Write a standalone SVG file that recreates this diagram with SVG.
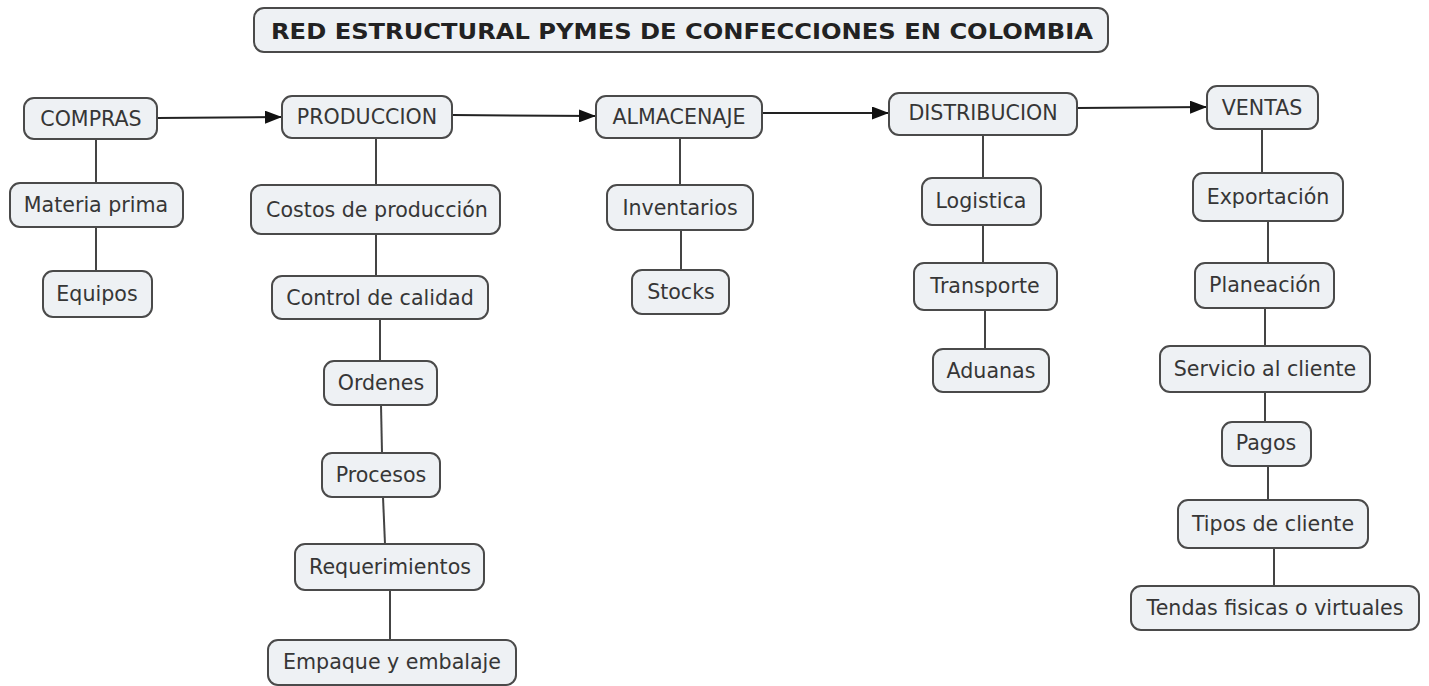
<svg xmlns="http://www.w3.org/2000/svg" width="1429" height="686" viewBox="0 0 1429 686">
<defs>
<style>
.n rect{fill:#eef1f4;stroke:#4a4a4a;stroke-width:2}
.n text{font-family:"DejaVu Sans","Noto Sans",sans-serif;font-size:20.6px;fill:#363636;text-anchor:middle;dominant-baseline:central}
.t text{font-family:"DejaVu Sans","Noto Sans",sans-serif;font-size:22px;font-weight:bold;fill:#222;text-anchor:middle;dominant-baseline:central}
.c line{stroke:#444;stroke-width:2}
.c .a{stroke:#222}
</style>
<marker id="ar" viewBox="0 0 17 13" refX="17" refY="6.5" markerWidth="17" markerHeight="13" markerUnits="userSpaceOnUse" orient="auto">
<path d="M0,0 L17,6.5 L0,13 z" fill="#111"/>
</marker>
</defs>
<rect width="1429" height="686" fill="#fff"/>
<g id="connectors" class="c">
<line class="a" x1="157" y1="118" x2="282" y2="117" marker-end="url(#ar)"/>
<line class="a" x1="452" y1="115" x2="596" y2="116" marker-end="url(#ar)"/>
<line class="a" x1="762" y1="113" x2="889" y2="113" marker-end="url(#ar)"/>
<line class="a" x1="1077" y1="108" x2="1207" y2="107" marker-end="url(#ar)"/>
<line x1="96" y1="139" x2="96" y2="183"/>
<line x1="96" y1="227" x2="96" y2="271"/>
<line x1="376" y1="138" x2="376" y2="185"/>
<line x1="376" y1="234" x2="376" y2="276"/>
<line x1="380" y1="319" x2="380" y2="361"/>
<line x1="381" y1="405" x2="382" y2="453"/>
<line x1="383" y1="497" x2="385" y2="544"/>
<line x1="390" y1="590" x2="390" y2="640"/>
<line x1="680" y1="138" x2="680" y2="185"/>
<line x1="681" y1="230" x2="681" y2="270"/>
<line x1="983" y1="135" x2="983" y2="178"/>
<line x1="983" y1="225" x2="983" y2="263"/>
<line x1="985" y1="310" x2="985" y2="349"/>
<line x1="1262" y1="129" x2="1262" y2="173"/>
<line x1="1268" y1="221" x2="1268" y2="263"/>
<line x1="1265" y1="308" x2="1265" y2="346"/>
<line x1="1265" y1="392" x2="1265" y2="422"/>
<line x1="1268" y1="466" x2="1268" y2="500"/>
<line x1="1274" y1="548" x2="1274" y2="586"/>
</g>
<g id="title" class="n t"><rect x="254" y="8" width="854" height="44" rx="10"/><text x="682" y="31" textLength="822" lengthAdjust="spacingAndGlyphs">RED ESTRUCTURAL PYMES DE CONFECCIONES EN COLOMBIA</text></g>
<g id="compras" class="n"><rect x="24" y="98" width="133" height="41" rx="10"/><text x="91" y="119">COMPRAS</text></g>
<g id="materia" class="n"><rect x="10" y="183" width="173" height="44" rx="10"/><text x="96" y="205">Materia prima</text></g>
<g id="equipos" class="n"><rect x="43" y="271" width="109" height="46" rx="10"/><text x="97" y="294">Equipos</text></g>
<g id="produccion" class="n"><rect x="282" y="96" width="170" height="42" rx="10"/><text x="367" y="117">PRODUCCION</text></g>
<g id="costos" class="n"><rect x="251" y="185" width="249" height="49" rx="10"/><text x="377" y="210">Costos de producción</text></g>
<g id="control" class="n"><rect x="272" y="276" width="216" height="43" rx="10"/><text x="380" y="298">Control de calidad</text></g>
<g id="ordenes" class="n"><rect x="324" y="361" width="113" height="44" rx="10"/><text x="381" y="383">Ordenes</text></g>
<g id="procesos" class="n"><rect x="322" y="453" width="118" height="44" rx="10"/><text x="381" y="475">Procesos</text></g>
<g id="requerimientos" class="n"><rect x="295" y="544" width="189" height="46" rx="10"/><text x="390" y="567">Requerimientos</text></g>
<g id="empaque" class="n"><rect x="268" y="640" width="248" height="45" rx="10"/><text x="392" y="662">Empaque y embalaje</text></g>
<g id="almacenaje" class="n"><rect x="596" y="96" width="166" height="42" rx="10"/><text x="679" y="117">ALMACENAJE</text></g>
<g id="inventarios" class="n"><rect x="607" y="185" width="146" height="45" rx="10"/><text x="680" y="208">Inventarios</text></g>
<g id="stocks" class="n"><rect x="632" y="270" width="97" height="44" rx="10"/><text x="681" y="292">Stocks</text></g>
<g id="distribucion" class="n"><rect x="889" y="93" width="188" height="42" rx="10"/><text x="983" y="113">DISTRIBUCION</text></g>
<g id="logistica" class="n"><rect x="922" y="178" width="119" height="47" rx="10"/><text x="981" y="201">Logistica</text></g>
<g id="transporte" class="n"><rect x="914" y="263" width="143" height="47" rx="10"/><text x="985" y="286">Transporte</text></g>
<g id="aduanas" class="n"><rect x="933" y="349" width="116" height="43" rx="10"/><text x="991" y="371">Aduanas</text></g>
<g id="ventas" class="n"><rect x="1207" y="86" width="111" height="43" rx="10"/><text x="1262" y="108">VENTAS</text></g>
<g id="exportacion" class="n"><rect x="1193" y="173" width="150" height="48" rx="10"/><text x="1268" y="197">Exportación</text></g>
<g id="planeacion" class="n"><rect x="1195" y="263" width="139" height="45" rx="10"/><text x="1265" y="285">Planeación</text></g>
<g id="servicio" class="n"><rect x="1160" y="346" width="210" height="46" rx="10"/><text x="1265" y="369">Servicio al cliente</text></g>
<g id="pagos" class="n"><rect x="1222" y="422" width="89" height="44" rx="10"/><text x="1266" y="443">Pagos</text></g>
<g id="tipos" class="n"><rect x="1178" y="500" width="190" height="48" rx="10"/><text x="1273" y="524">Tipos de cliente</text></g>
<g id="tendas" class="n"><rect x="1131" y="586" width="288" height="44" rx="10"/><text x="1275" y="608">Tendas fisicas o virtuales</text></g>
</svg>
